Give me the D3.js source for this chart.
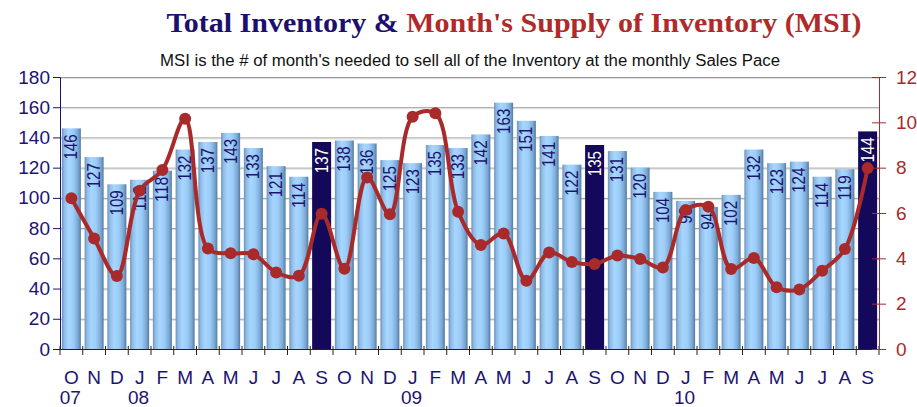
<!DOCTYPE html>
<html>
<head>
<meta charset="utf-8">
<script src="https://cdn.jsdelivr.net/npm/d3@7"></script>
<style>
  body { margin: 0; background: #fff; }
  text { font-family: Arial, "Liberation Sans", sans-serif; }
</style>
</head>
<body>
<script>
// months Oct 2007 .. Sep 2010
var months = ["O","N","D","J","F","M","A","M","J","J","A","S",
              "O","N","D","J","F","M","A","M","J","J","A","S",
              "O","N","D","J","F","M","A","M","J","J","A","S"];
var years = {0: "07", 3: "08", 15: "09", 27: "10"};
var inventory = [146,127,109,112,118,132,137,143,133,121,114,137,
                 138,136,125,123,135,133,142,163,151,141,122,135,
                 131,120,104,98,94,102,132,123,124,114,119,144];
var msi = [6.65,4.88,3.22,6.98,7.9,10.16,4.43,4.22,4.18,3.38,3.23,5.97,
           3.54,7.57,5.95,10.25,10.4,6.06,4.59,5.1,3.01,4.26,3.84,3.75,
           4.12,3.97,3.6,6.13,6.28,3.53,4.01,2.72,2.63,3.45,4.41,7.98];
var leftTicks = [0,20,40,60,80,100,120,140,160,180];
var rightTicks = [0,2,4,6,8,10,12];

var W = 917, H = 407;
var plotL = 60, plotR = 879, plotT = 77, plotB = 349;
var navy = "#1c1470", red = "#a82a2a";

var svg = d3.select("body").append("svg")
    .attr("width", W)
    .attr("height", H);

var defs = svg.append("defs");
var grad = defs.append("linearGradient").attr("id", "barGrad")
    .attr("x1", "0%").attr("x2", "100%").attr("y1", "0%").attr("y2", "0%");
[["0%","#6a8fb6"],["12%","#8dbbe6"],["35%","#a7d6ff"],["60%","#9ccdf8"],["85%","#7aa8d4"],["100%","#557a9f"]]
  .forEach(function(s){ grad.append("stop").attr("offset", s[0]).attr("stop-color", s[1]); });

var x = d3.scaleBand().domain(d3.range(months.length))
    .range([plotL, plotR]).paddingInner(0.165).paddingOuter(0.0825);
var y = d3.scaleLinear().domain([0, 180]).range([plotB, plotT]);
var y2 = d3.scaleLinear().domain([0, 12]).range([plotB, plotT]);

// title
var title = svg.append("text")
    .attr("x", 514).attr("y", 32)
    .attr("text-anchor", "middle")
    .attr("textLength", 695)
    .attr("lengthAdjust", "spacingAndGlyphs")
    .style("font-family", "'Liberation Serif', 'Times New Roman', serif")
    .style("font-weight", "bold")
    .style("font-size", "28px");
title.append("tspan").attr("fill", "#1c0f6e").text("Total Inventory & ");
title.append("tspan").attr("fill", "#b02a2a").text("Month's Supply of Inventory (MSI)");

svg.append("text")
    .attr("x", 470).attr("y", 66)
    .attr("text-anchor", "middle")
    .attr("textLength", 620)
    .attr("lengthAdjust", "spacingAndGlyphs")
    .style("font-size", "16px")
    .attr("fill", "#111")
    .text("MSI is the # of month's needed to sell all of the Inventory at the monthly Sales Pace");

// gridlines
var grid = svg.append("g");
grid.selectAll("line.g1").data(leftTicks.slice(1)).enter().append("line")
    .attr("x1", plotL).attr("x2", plotR)
    .attr("y1", function(d){ return y(d) + 0.5; }).attr("y2", function(d){ return y(d) + 0.5; })
    .attr("stroke", "#9a9a9a");
grid.selectAll("line.g2").data(leftTicks.slice(1)).enter().append("line")
    .attr("x1", plotL).attr("x2", plotR)
    .attr("y1", function(d){ return y(d) + 1.5; }).attr("y2", function(d){ return y(d) + 1.5; })
    .attr("stroke", "#dedede");

// bars
var dark = function(i){ return months[i] == "S"; };
svg.append("g").selectAll("rect").data(inventory).enter().append("rect")
    .attr("x", function(d, i){ return x(i); })
    .attr("width", x.bandwidth())
    .attr("y", function(d){ return y(d); })
    .attr("height", function(d){ return plotB - y(d); })
    .attr("fill", function(d, i){ return dark(i) ? "#13085a" : "url(#barGrad)"; });

// bar labels
svg.append("g").selectAll("text").data(inventory).enter().append("text")
    .attr("transform", function(d, i){
      return "translate(" + (x(i) + x.bandwidth() / 2 + 6) + "," + (y(d) + 6) + ") rotate(-90)";
    })
    .attr("text-anchor", "end")
    .attr("textLength", function(d){ return String(d).length * 8.4; })
    .attr("lengthAdjust", "spacingAndGlyphs")
    .style("font-size", "18px")
    .attr("fill", function(d, i){ return dark(i) ? "#fff" : navy; })
    .text(function(d){ return d; });

// x axis
var step = x.step();
svg.append("line").attr("x1", plotL).attr("x2", plotR)
    .attr("y1", plotB + 0.5).attr("y2", plotB + 0.5).attr("stroke", "#222").attr("stroke-width", 1.2);
svg.append("g").selectAll("line").data(d3.range(months.length + 1)).enter().append("line")
    .attr("x1", function(i){ return plotL + i * step; })
    .attr("x2", function(i){ return plotL + i * step; })
    .attr("y1", plotB - 3).attr("y2", plotB + 6)
    .attr("stroke", "#222");
svg.append("g").selectAll("text").data(months).enter().append("text")
    .attr("x", function(d, i){ return x(i) + x.bandwidth() / 2; })
    .attr("y", 384)
    .attr("text-anchor", "middle")
    .style("font-size", "19px")
    .attr("fill", navy)
    .text(function(d){ return d; });
svg.append("g").selectAll("text").data(Object.keys(years)).enter().append("text")
    .attr("x", function(k){ return x(+k) + x.bandwidth() / 2 - 1; })
    .attr("y", 404)
    .attr("text-anchor", "middle")
    .style("font-size", "19px")
    .attr("fill", navy)
    .text(function(k){ return years[k]; });

// left axis
var yAxis = svg.append("g")
    .attr("transform", "translate(" + plotL + ",0)")
    .call(d3.axisLeft(y).tickValues(leftTicks).tickSize(7).tickPadding(3));
yAxis.select(".domain").attr("stroke", navy);
yAxis.selectAll(".tick line").attr("stroke", navy);
yAxis.selectAll(".tick text").attr("fill", navy).style("font-size", "19px").style("font-family", "Arial, 'Liberation Sans', sans-serif");

// right axis
var y2Axis = svg.append("g")
    .attr("transform", "translate(" + plotR + ",0)")
    .call(d3.axisRight(y2).tickValues(rightTicks).tickSize(7).tickPadding(10));
y2Axis.select(".domain").attr("stroke", red);
y2Axis.selectAll(".tick line").attr("stroke", red).attr("x1", -7);
y2Axis.selectAll(".tick text").attr("fill", red).style("font-size", "19px").style("font-family", "Arial, 'Liberation Sans', sans-serif");

// MSI line
var line = d3.line()
    .x(function(d, i){ return x(i) + x.bandwidth() / 2; })
    .y(function(d){ return y2(d); })
    .curve(d3.curveCatmullRom.alpha(0.5));
svg.append("path").datum(msi)
    .attr("d", line)
    .attr("fill", "none")
    .attr("stroke", red)
    .attr("stroke-width", 4);
svg.append("g").selectAll("circle").data(msi).enter().append("circle")
    .attr("cx", function(d, i){ return x(i) + x.bandwidth() / 2; })
    .attr("cy", function(d){ return y2(d); })
    .attr("r", 6)
    .attr("fill", red);
</script>
</body>
</html>
